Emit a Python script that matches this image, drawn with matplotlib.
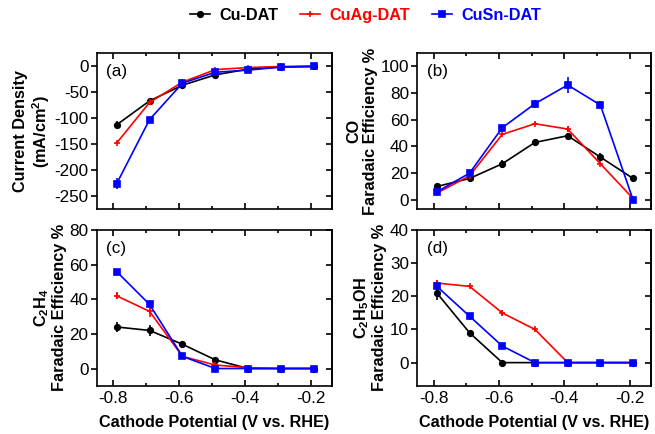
import matplotlib.pyplot as plt
from matplotlib.lines import Line2D
from matplotlib.ticker import MultipleLocator

plt.rcParams["font.family"] = ["Liberation Sans", "DejaVu Sans"]
plt.rcParams["axes.unicode_minus"] = False
plt.rcParams["mathtext.fontset"] = "custom"
plt.rcParams["mathtext.bf"] = "Liberation Sans:bold"
plt.rcParams["mathtext.rm"] = "Liberation Sans:bold"
plt.rcParams["mathtext.default"] = "bf"

# cathode potential (V vs. RHE)
potential = [-0.79, -0.69, -0.59, -0.49, -0.39, -0.29, -0.19]

# (a) current density, mA/cm2
cd_cu = [-113, -67, -37, -17, -6, -2, -1]
cd_cuag = [-148, -70, -31, -7, -3, -1, 0]
cd_cusn = [-226, -103, -33, -12, -8, -2, -1]
cd_cu_err = [8, 2, 2, 2, 1, 1, 1]
cd_cuag_err = [2, 2, 2, 1, 1, 1, 0]
cd_cusn_err = [10, 3, 2, 1, 1, 1, 1]

# (b) CO faradaic efficiency, %
co_cu = [10, 16, 27, 43, 48, 32, 16]
co_cuag = [5, 18, 49, 57, 53, 27, 1]
co_cusn = [6, 20, 54, 72, 86, 71, 0]
co_cu_err = [2, 3, 3, 2, 2, 3, 1]
co_cuag_err = [1, 1, 1, 1, 2, 1, 0]
co_cusn_err = [1, 2, 2, 3, 6, 3, 1]

# (c) C2H4 faradaic efficiency, %
c2h4_cu = [24, 22, 14, 5, 0, 0, 0]
c2h4_cuag = [42, 33, 7, 2, 0.5, 0, 0]
c2h4_cusn = [56, 37, 7, 0, 0, 0, 0]
c2h4_cu_err = [3, 3, 2, 1, 0, 0, 0]
c2h4_cuag_err = [2, 3, 1, 1, 0, 0, 0]
c2h4_cusn_err = [1, 1, 1, 0, 0, 0, 0]

# (d) C2H5OH faradaic efficiency, %
eth_cu = [21, 9, 0, 0, 0, 0, 0]
eth_cuag = [24, 23, 15, 10, 0, 0, 0]
eth_cusn = [23, 14, 5, 0, 0, 0, 0]
eth_cu_err = [2, 0.5, 0, 0, 0, 0, 0]
eth_cuag_err = [1, 0.5, 1, 0.5, 0, 0, 0]
eth_cusn_err = [1, 1, 0.5, 0, 0, 0, 0]

names = ["Cu-DAT", "CuAg-DAT", "CuSn-DAT"]
colors = ["black", "red", "blue"]
markers = ["o", "+", "s"]
msizes = [4, 5, 4]

panels = [
    ((cd_cu, cd_cuag, cd_cusn), (cd_cu_err, cd_cuag_err, cd_cusn_err),
     "Current Density\n(mA/cm$^2$)", (-275, 25), 50, "(a)"),
    ((co_cu, co_cuag, co_cusn), (co_cu_err, co_cuag_err, co_cusn_err),
     "CO\nFaradaic Efficiency %", (-7, 110), 20, "(b)"),
    ((c2h4_cu, c2h4_cuag, c2h4_cusn), (c2h4_cu_err, c2h4_cuag_err, c2h4_cusn_err),
     "C$_2$H$_4$\nFaradaic Efficiency %", (-10, 80), 20, "(c)"),
    ((eth_cu, eth_cuag, eth_cusn), (eth_cu_err, eth_cuag_err, eth_cusn_err),
     "C$_2$H$_5$OH\nFaradaic Efficiency %", (-7, 40), 10, "(d)"),
]

fig = plt.figure(figsize=(6.55, 4.34), dpi=100)
rects = [
    [0.148, 0.518, 0.359, 0.360],
    [0.637, 0.518, 0.357, 0.360],
    [0.148, 0.111, 0.359, 0.359],
    [0.637, 0.111, 0.357, 0.359],
]

for i, (rect, (ys, errs, ylabel, ylim, ystep, tag)) in enumerate(zip(rects, panels)):
    ax = fig.add_axes(rect)
    for y, e, c, m, ms, n in zip(ys, errs, colors, markers, msizes, names):
        ax.errorbar(potential, y, yerr=e, color=c, marker=m, ms=ms, mew=1.2,
                    lw=1.2, elinewidth=1.2, capsize=0, label=n)
    ax.set_xlim(-0.85, -0.135)
    ax.set_ylim(*ylim)
    ax.xaxis.set_major_locator(MultipleLocator(0.2))
    ax.xaxis.set_minor_locator(MultipleLocator(0.1))
    ax.yaxis.set_major_locator(MultipleLocator(ystep))
    ax.tick_params(axis="x", which="both", direction="in", top=True, labelsize=12.3)
    ax.tick_params(axis="x", which="major", length=4, width=1.2)
    ax.tick_params(axis="x", which="minor", length=2.5, width=1.2)
    ax.tick_params(axis="y", direction="out", length=4, width=1.2, labelsize=12.3, pad=2)
    axr = ax.secondary_yaxis("right")
    axr.yaxis.set_major_locator(MultipleLocator(ystep))
    axr.tick_params(direction="in", length=4, width=1.2, labelright=False)
    for s in list(ax.spines.values()) + [axr.spines["right"]]:
        s.set_linewidth(1.2)
    ax.set_ylabel(ylabel, fontsize=11.7, fontweight="bold", linespacing=1.1, labelpad=2)
    ax.text(0.04, 0.93, tag, transform=ax.transAxes, fontsize=12.3, va="top", ha="left")
    if i < 2:
        ax.tick_params(axis="x", labelbottom=False)
    else:
        ax.set_xlabel("Cathode Potential (V vs. RHE)", fontsize=11.7, fontweight="bold", labelpad=7)

handles = [Line2D([], [], color=c, marker=m, ms=ms, mew=1.2, lw=1.2)
           for c, m, ms in zip(colors, markers, msizes)]
leg = fig.legend(handles, names, loc="center", bbox_to_anchor=(0.558, 0.965), ncol=3,
                 frameon=False, prop={"size": 11.7, "weight": "bold"},
                 handlelength=1.25, columnspacing=1.3, handletextpad=0.6)
for t, c in zip(leg.get_texts(), colors):
    t.set_color(c)

fig.savefig("out.png", dpi=100)
